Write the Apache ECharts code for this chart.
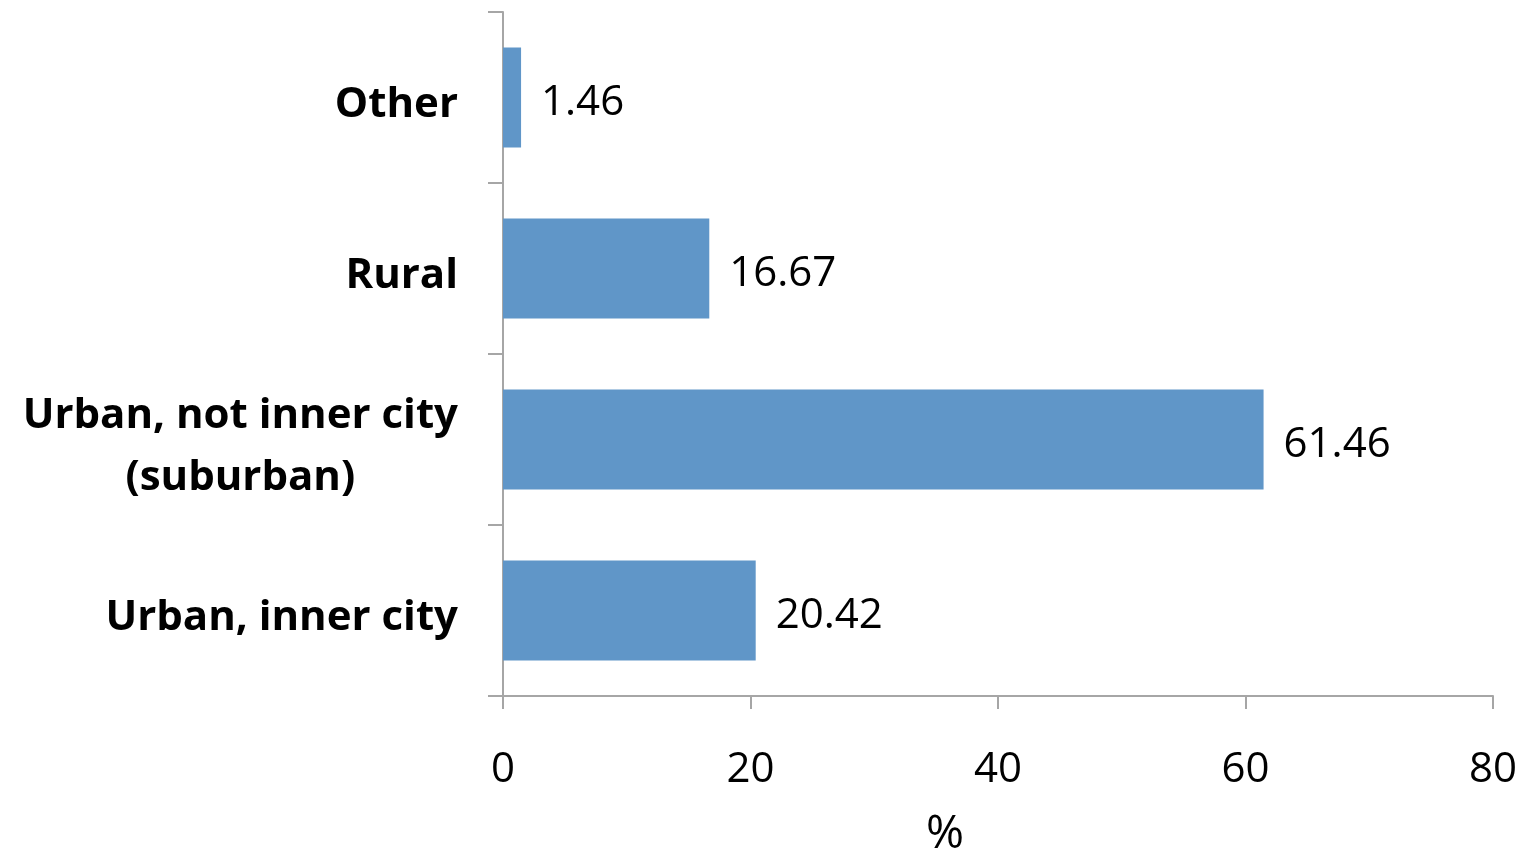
<!DOCTYPE html>
<html>
<head>
<meta charset="utf-8">
<script src="https://cdn.jsdelivr.net/npm/echarts@6/dist/echarts.min.js"></script>
<style>
  html, body { margin: 0; padding: 0; background: #fff; }
  #main { width: 1535px; height: 855px; }
</style>
</head>
<body>
<div id="main"></div>
<script>
// categories bottom to top
var categories = ['Urban, inner city', 'Urban, not inner city\n(suburban)', 'Rural', 'Other'];
var values = [20.42, 61.46, 16.67, 1.46];
var xTicks = [0, 20, 40, 60, 80];

var axisColor = '#A6A6A6';
var font = '"Open Sans"';

var chart = echarts.init(document.getElementById('main'));
var option = {
  animation: false,
  grid: { left: 503, right: 42, top: 12, bottom: 159, containLabel: false, outerBoundsMode: 'none' },
  xAxis: {
    type: 'value',
    min: xTicks[0],
    max: xTicks[xTicks.length - 1],
    interval: 20,
    name: '%',
    nameLocation: 'middle',
    nameGap: 116,
    nameTextStyle: { color: '#000', fontSize: 46, fontFamily: font, padding: [0, 106, 0, 0] },
    axisLine: { show: true, lineStyle: { color: axisColor, width: 2 } },
    axisTick: { show: true, length: 13, lineStyle: { color: axisColor, width: 2 } },
    axisLabel: { color: '#000', fontSize: 42, fontFamily: font, margin: 53 },
    splitLine: { show: false }
  },
  yAxis: {
    type: 'category',
    data: categories,
    axisLine: { show: true, lineStyle: { color: axisColor, width: 2 } },
    axisTick: { show: true, length: 15, alignWithLabel: false, lineStyle: { color: axisColor, width: 2 } },
    axisLabel: {
      margin: 45,
      padding: [16, 0, 0, 0],
      formatter: function (v) {
        return v.split('\n').map(function (s) { return '{b|' + s + '}'; }).join('\n');
      },
      rich: {
        b: { align: 'center', color: '#000', fontSize: 42, fontWeight: 'bold', fontFamily: font, lineHeight: 62 }
      }
    }
  },
  series: [{
    type: 'bar',
    data: values,
    barWidth: 100,
    itemStyle: { color: '#6096C8' },
    label: {
      show: true,
      position: 'right',
      distance: 20,
      offset: [0, 6],
      color: '#000',
      fontSize: 42,
      fontFamily: font,
      formatter: function (p) { return p.value.toFixed(2); }
    }
  }]
};
chart.setOption(option);
</script>
</body>
</html>
